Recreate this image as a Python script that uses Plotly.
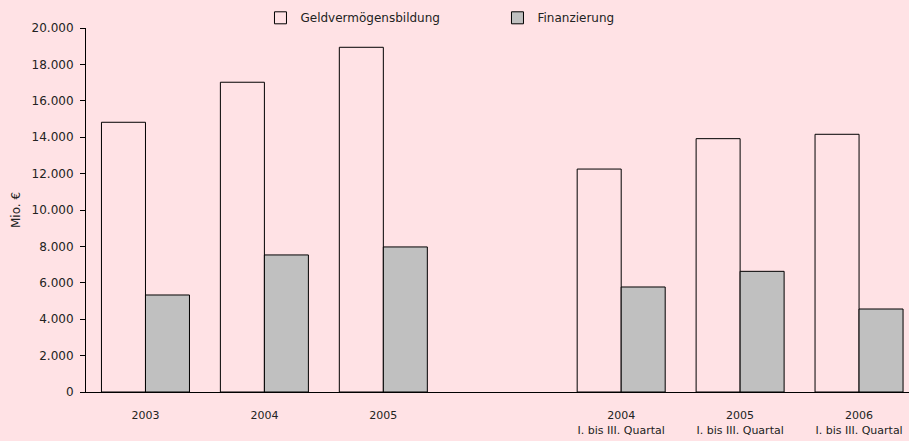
import plotly.graph_objects as go

categories = ["2003", "2004", "2005", "2004<br>I. bis III. Quartal", "2005<br>I. bis III. Quartal", "2006<br>I. bis III. Quartal"]
positions = [0, 1, 2, 4, 5, 6]
geldvermoegen = [14820, 17020, 18940, 12250, 13920, 14160]
finanzierung = [5330, 7530, 7970, 5770, 6630, 4560]
y_ticks = [0, 2000, 4000, 6000, 8000, 10000, 12000, 14000, 16000, 18000, 20000]
y_ticktext = ["0", "2.000", "4.000", "6.000", "8.000", "10.000", "12.000", "14.000", "16.000", "18.000", "20.000"]

BG = "#FFE2E5"
FONT = "'DejaVu Sans', Lato, sans-serif"

fig = go.Figure()
fig.add_trace(go.Bar(
    x=positions, y=geldvermoegen, name="Geldvermögensbildung",
    marker=dict(color=BG, line=dict(color="#000000", width=1)),
))
fig.add_trace(go.Bar(
    x=positions, y=finanzierung, name="Finanzierung",
    marker=dict(color="#C0C0C0", line=dict(color="#000000", width=1)),
))

fig.update_layout(
    width=909, height=441,
    paper_bgcolor=BG, plot_bgcolor=BG,
    margin=dict(l=86, r=0, t=28, b=49, autoexpand=False),
    barmode="group", bargap=0.26, bargroupgap=0,
    font=dict(family=FONT, size=11, color="#222222"),
    showlegend=True,
    legend=dict(orientation="h", x=0.212, xanchor="left", y=1.028, yanchor="middle",
                bgcolor="rgba(0,0,0,0)", font=dict(size=12), itemwidth=30,
                entrywidth=192, entrywidthmode="pixels", traceorder="normal"),
    xaxis=dict(range=[-0.5, 6.42], tickvals=positions, ticktext=categories,
               showline=True, linecolor="#000000", linewidth=1,
               ticks="", showgrid=False, zeroline=False, automargin=False,
               ticklabelstandoff=13, tickfont=dict(size=11)),
    yaxis=dict(range=[0, 20000], tickvals=y_ticks, ticktext=y_ticktext,
               showline=True, linecolor="#000000", linewidth=1,
               ticks="outside", ticklen=5, tickcolor="#000000",
               showgrid=False, zeroline=False, automargin=False,
               ticklabelstandoff=4,
               title=dict(text="Mio. €", font=dict(size=12), standoff=8),
               tickfont=dict(size=12)),
)

fig.write_html("out.html", config={"displayModeBar": False},
               post_script="document.body.style.margin='0';document.body.style.padding='0';document.body.style.overflow='hidden';")
